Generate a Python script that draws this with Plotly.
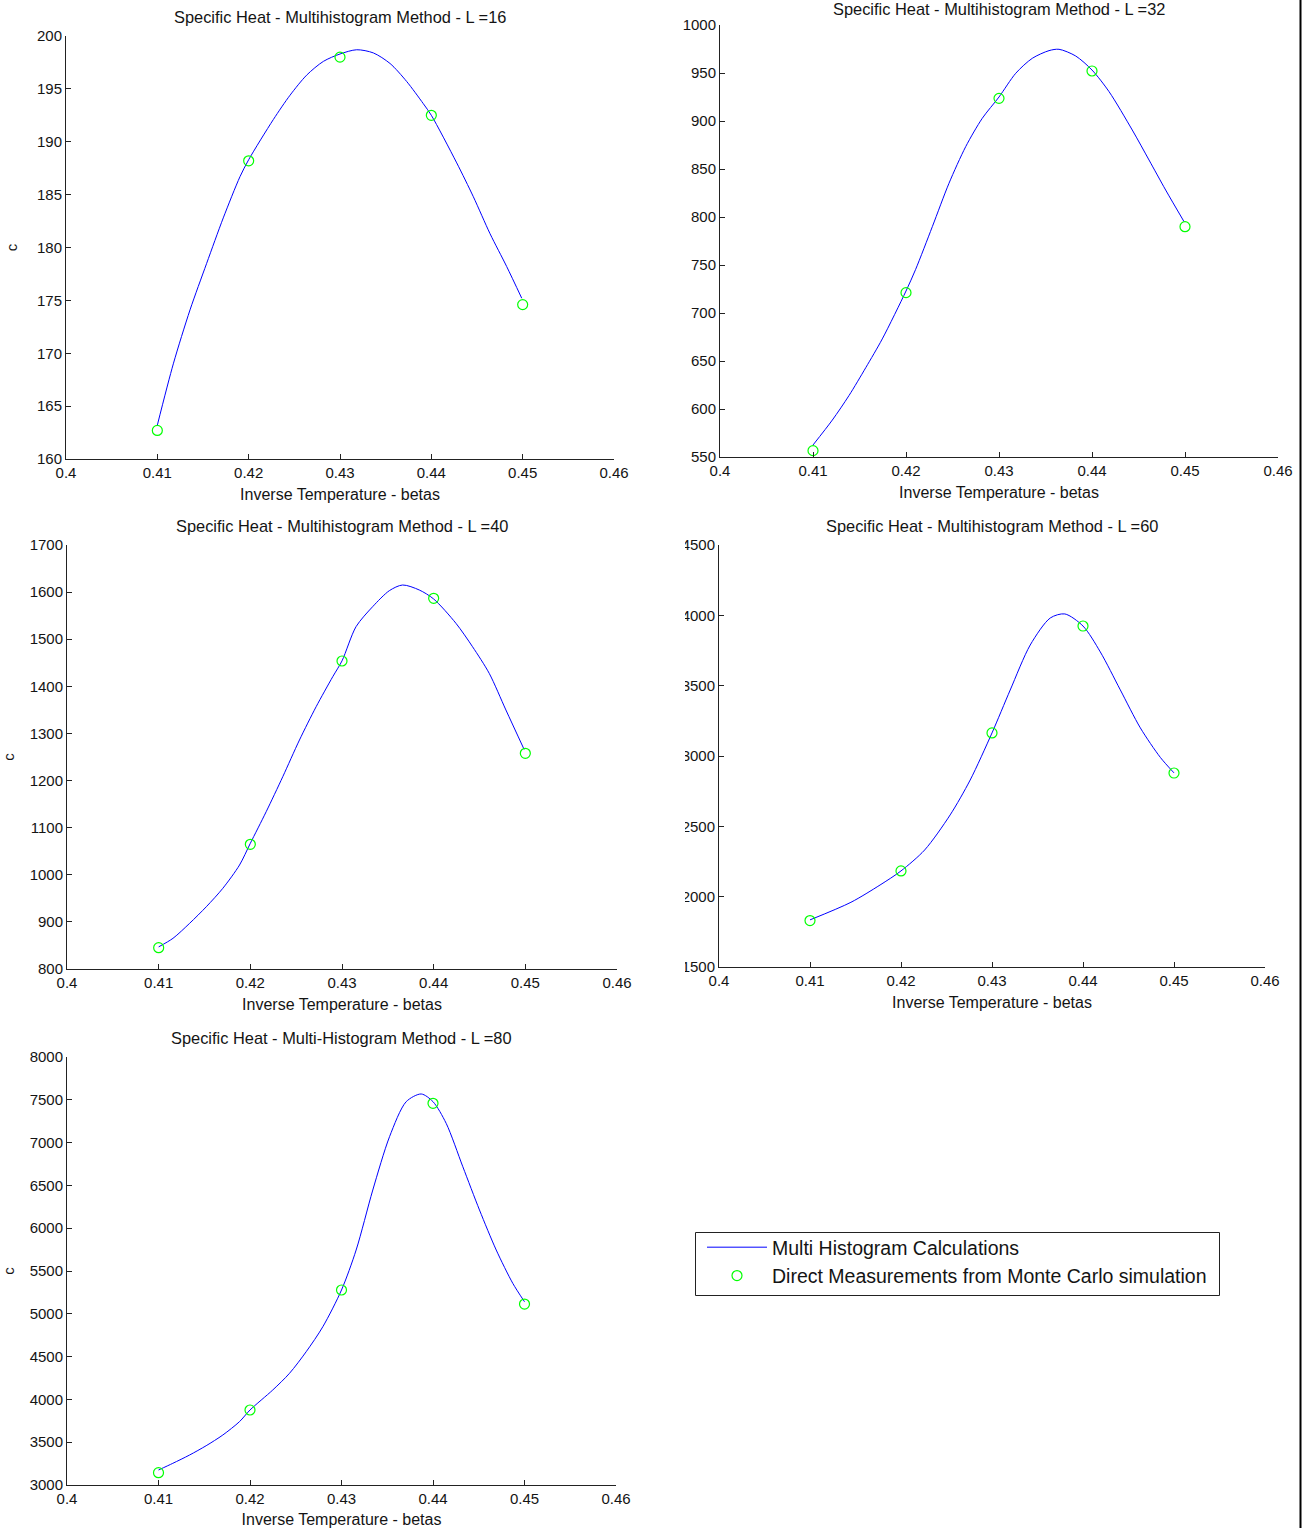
import plotly.graph_objects as go

W, H = 1306, 1528

# ---------------- data ----------------
beta_pts = [0.41, 0.42, 0.43, 0.44, 0.45]

# L = 16
c16_pts = [162.7, 188.2, 198.0, 192.5, 174.6]
b16_curve = [0.4100, 0.41175, 0.41358, 0.41540, 0.41722, 0.41905, 0.4200, 0.4227, 0.42453, 0.42635,
             0.42818, 0.4300, 0.43183, 0.43365, 0.43548, 0.4373, 0.43912, 0.4400, 0.44278, 0.4446,
             0.44643, 0.44825, 0.4499]
c16_curve = [163.2, 169.0, 174.1, 178.5, 182.8, 186.7, 188.3, 192.1, 194.4, 196.3,
             197.6, 198.3, 198.7, 198.4, 197.4, 195.7, 193.6, 192.5, 188.0, 184.8,
             181.3, 178.2, 175.2]

# L = 32
c32_pts = [556.6, 721.2, 923.6, 952.1, 789.9]
b32_curve = [0.4100, 0.41208, 0.41387, 0.41567, 0.41745, 0.4200, 0.42104, 0.42283, 0.42462, 0.42642,
             0.4282, 0.4300, 0.4318, 0.43358, 0.43538, 0.43645, 0.43825, 0.4400, 0.44183, 0.44433,
             0.44613, 0.44792, 0.4499]
c32_curve = [562.5, 588.5, 614.0, 643.0, 673.0, 722.9, 745.5, 789.9, 835.1, 873.3,
             902.8, 925.0, 949.7, 965.3, 973.3, 974.7, 967.7, 953.1, 930.6, 890.6,
             859.4, 828.1, 795.1]

# L = 40
c40_pts = [845.2, 1064.7, 1453.8, 1586.8, 1257.8]
b40_curve = [0.4100, 0.41156, 0.41338, 0.4152, 0.4170, 0.41882, 0.4200, 0.42173, 0.42354, 0.42536,
             0.42718, 0.42899, 0.4300, 0.43153, 0.43334, 0.43516, 0.43661, 0.43843, 0.4400, 0.44243,
             0.44424, 0.44606, 0.44788, 0.44987]
c40_curve = [847.0, 865.1, 897.0, 932.2, 971.3, 1020.7, 1066.8, 1133.9, 1208.2, 1286.1,
             1356.8, 1420.4, 1454.0, 1526.6, 1569.0, 1603.0, 1615.1, 1604.5, 1585.4, 1533.8,
             1484.1, 1427.6, 1349.8, 1266.0]

# L = 60
c60_pts = [1830.0, 2183.0, 3164.0, 3924.0, 2879.0]
b60_curve = [0.4100, 0.4145, 0.4177, 0.4200, 0.4226, 0.4254, 0.4276, 0.4300, 0.4320, 0.4342,
             0.4364, 0.4380, 0.4400, 0.4419, 0.4441, 0.4463, 0.4485, 0.4500]
c60_curve = [1835.0, 1960.0, 2083.0, 2183.0, 2332.0, 2581.0, 2829.0, 3164.0, 3469.0, 3789.0,
             3981.0, 4010.0, 3924.0, 3740.0, 3470.0, 3200.0, 2990.0, 2880.0]

# L = 80
c80_pts = [3144.0, 3876.0, 5278.0, 7459.0, 5114.0]
b80_curve = [0.4100, 0.41156, 0.41339, 0.41521, 0.41703, 0.41885, 0.4200, 0.42249, 0.42432, 0.42614,
             0.42796, 0.4300, 0.4316, 0.43342, 0.43525, 0.43707, 0.43871, 0.4400, 0.44144, 0.44326,
             0.44508, 0.44691, 0.44872, 0.4500]
c80_curve = [3175.0, 3253.0, 3350.0, 3459.0, 3584.0, 3740.0, 3876.0, 4110.0, 4305.0, 4557.0,
             4849.0, 5278.0, 5745.0, 6446.0, 7069.0, 7478.0, 7568.0, 7478.0, 7225.0, 6718.0,
             6213.0, 5745.0, 5356.0, 5141.0]

x_tickvals = [0.40, 0.41, 0.42, 0.43, 0.44, 0.45, 0.46]
x_ticktext = ["0.4", "0.41", "0.42", "0.43", "0.44", "0.45", "0.46"]

titles = [
    "Specific Heat - Multihistogram Method - L =16",
    "Specific Heat - Multihistogram Method - L =32",
    "Specific Heat - Multihistogram Method - L =40",
    "Specific Heat - Multihistogram Method - L =60",
    "Specific Heat - Multi-Histogram Method - L =80",
]
xlabel = "Inverse Temperature - betas"
ylabel = "c"
legend_names = ["Multi Histogram Calculations", "Direct Measurements from Monte Carlo simulation"]

# ---------------- layout geometry (pixels) ----------------
# (left, right, top, bottom, ymin, ymax, ydtick)
panels = [
    (66, 614, 36, 459, 160, 200, 5),
    (720, 1278, 25, 457, 550, 1000, 50),
    (67, 617, 545, 969, 800, 1700, 100),
    (719, 1265, 545, 967, 1500, 4500, 500),
    (67, 616, 1057, 1485, 3000, 8000, 500),
]
title_y = [17, 9, 526, 526, 1038]
ytitle_standoff = [15, 20, 20, 20, 20]
curves = [(b16_curve, c16_curve, c16_pts), (b32_curve, c32_curve, c32_pts),
          (b40_curve, c40_curve, c40_pts), (b60_curve, c60_curve, c60_pts),
          (b80_curve, c80_curve, c80_pts)]

FONT = "Liberation Sans, Arial, sans-serif"
TXT = "#141414"
fig = go.Figure()
annotations = []
for i, ((l, r, t, b, y0, y1, dt), (bx, cy, cp)) in enumerate(zip(panels, curves)):
    n = "" if i == 0 else str(i + 1)
    fig.add_trace(go.Scatter(x=bx, y=cy, mode="lines",
                             line=dict(color="#0000FF", width=1, shape="spline", smoothing=0.8),
                             name=legend_names[0], showlegend=(i == 0), legendgroup="a",
                             xaxis="x" + n, yaxis="y" + n))
    fig.add_trace(go.Scatter(x=beta_pts, y=cp, mode="markers",
                             marker=dict(symbol="circle-open", size=10, color="#00FF00",
                                         line=dict(width=1.2, color="#00FF00")),
                             name=legend_names[1], showlegend=(i == 0), legendgroup="b",
                             xaxis="x" + n, yaxis="y" + n))
    common = dict(showgrid=False, zeroline=False, showline=True, linecolor="#222222", linewidth=1,
                  ticks="inside", ticklen=5, tickcolor="#222222", tickwidth=1, automargin=False,
                  tickfont=dict(family=FONT, size=15, color=TXT))
    fig.update_layout(**{
        "xaxis" + n: dict(domain=[l / W, r / W], range=[0.4, 0.46], anchor="y" + n,
                          tickvals=x_tickvals, ticktext=x_ticktext,
                          title=dict(text=xlabel, font=dict(family=FONT, size=16, color=TXT),
                                     standoff=8),
                          **common),
        "yaxis" + n: dict(domain=[1 - b / H, 1 - t / H], range=[y0, y1], anchor="x" + n,
                          dtick=dt, tick0=y0,
                          title=dict(text=ylabel if i % 2 == 0 else "",
                                     font=dict(family=FONT, size=15, color=TXT),
                                     standoff=ytitle_standoff[i]),
                          **common),
    })
    annotations.append(dict(text=titles[i], x=(l + r) / 2 / W, y=1 - title_y[i] / H,
                            xref="paper", yref="paper", xanchor="center", yanchor="middle",
                            showarrow=False, font=dict(family=FONT, size=16.4, color=TXT)))

shapes = [
    # clipping of the L=60 y tick labels as in the original image
    dict(type="rect", xref="paper", yref="paper", x0=650 / W, x1=685 / W,
         y0=1 - 985 / H, y1=1 - 535 / H, fillcolor="white", line=dict(width=0), layer="above"),
    # right border line
    dict(type="line", xref="paper", yref="paper", x0=1300.5 / W, x1=1300.5 / W, y0=0, y1=1,
         line=dict(color="black", width=2)),
    # legend frame
    dict(type="rect", xref="paper", yref="paper", x0=695.5 / W, x1=1219.5 / W,
         y0=1 - 1295.5 / H, y1=1 - 1232.5 / H, line=dict(color="#222222", width=1),
         fillcolor="white", layer="below"),
]

fig.update_layout(
    width=W, height=H, margin=dict(l=0, r=0, t=0, b=0, autoexpand=False),
    paper_bgcolor="white", plot_bgcolor="white",
    annotations=annotations, shapes=shapes,
    legend=dict(x=702 / W, y=1 - 1228 / H, xanchor="left", yanchor="top",
                borderwidth=0, bgcolor="rgba(0,0,0,0)",
                font=dict(family=FONT, size=19.5, color=TXT),
                itemwidth=60, tracegroupgap=0),
)

fig.write_html("out.html",
               post_script="document.body.style.margin='0px';document.body.style.overflow='hidden';")
